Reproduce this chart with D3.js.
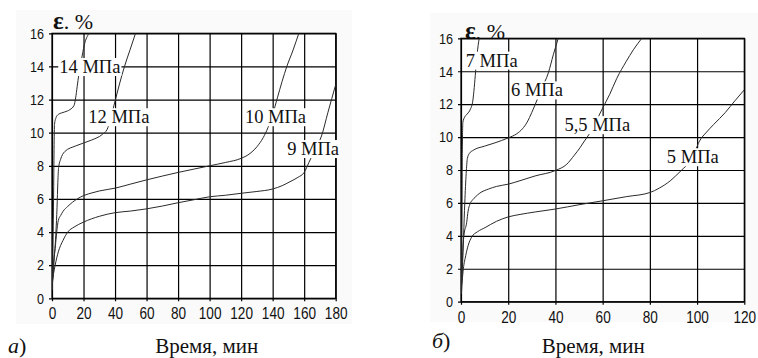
<!DOCTYPE html>
<html>
<head>
<meta charset="utf-8">
<script src="https://cdn.jsdelivr.net/npm/d3@7"></script>
<style>
  html, body { margin: 0; padding: 0; background: #fff; }
  svg { display: block; }
  .tick text { font-family: "Liberation Sans", Arial, sans-serif; fill: #111; }
  .serif { font-family: "Liberation Serif", "Times New Roman", serif; fill: #111; }
</style>
</head>
<body>
<svg id="chart" width="758" height="358"></svg>
<script>
// Creep strain ε (%) against time (min) at constant stress levels.
const strainTicks = [0, 2, 4, 6, 8, 10, 12, 14, 16];
const timeTicksA = [0, 20, 40, 60, 80, 100, 120, 140, 160, 180];
const timeTicksB = [0, 20, 40, 60, 80, 100, 120];

// Panel а): 14, 12, 10, 9 МПа  — [time, strain]
const curve14 = [[0.2,0.5],[0.6,3],[1,6],[1.3,9],[1.6,10.5],[2.5,10.9],[4,11.1],[8,11.25],[11.5,11.4],[14,11.65],[15,12.1],[16,12.8],[17,13.5],[18.5,14.3],[20.5,15.3],[23.5,16]];
const curve12 = [[0.4,1],[1.5,2.5],[2.5,4],[3.2,5.5],[3.7,7],[4.2,7.9],[5.5,8.4],[8,8.85],[15,9.2],[25,9.55],[32,9.9],[35,10.2],[37,10.8],[40,11.9],[43,13],[46,14],[49.5,15],[53,16]];
const curve10 = [[0.3,1],[1,2.2],[2,3],[3,4],[4,4.7],[5.5,5],[7,5.25],[10,5.55],[13,5.8],[16,6],[20,6.2],[26,6.38],[30,6.48],[40,6.65],[50,6.9],[60,7.15],[70,7.38],[80,7.6],[90,7.8],[100,8],[110,8.2],[120,8.45],[125,8.7],[130,9.15],[134,9.7],[137,10.3],[140,11.1],[143,12.1],[146,13.1],[149,14],[153,15],[156.6,16]];
const curve9 = [[0,0.9],[1,1.5],[2,2],[4,2.8],[7,3.5],[10,4],[14,4.3],[20,4.6],[30,4.95],[40,5.17],[50,5.27],[60,5.4],[70,5.57],[80,5.77],[90,5.95],[100,6.13],[110,6.22],[120,6.34],[130,6.45],[140,6.6],[146,6.8],[151,7.04],[156,7.3],[160,7.6],[163,8.2],[167,9],[171,9.8],[175,11.2],[180,12.9]];

// Panel б): 7, 6, 5,5, 5 МПа — [time, strain]
const curve7 = [[0.1,0.5],[0.3,3],[0.45,6],[0.55,9],[0.8,10.9],[1.5,11.2],[2.6,11.4],[4,11.7],[5,12.2],[5.6,13],[6.2,14],[6.8,15],[7.7,16]];
const curve6 = [[0.2,0.5],[0.6,2],[1.1,4],[1.6,6],[2.2,7.8],[2.7,8.7],[3.5,9],[5.2,9.2],[10,9.45],[14.4,9.65],[20,9.95],[23.6,10.2],[26,10.5],[28,10.9],[30,11.5],[31.5,12],[34,12.9],[37,13.9],[39.1,15],[41.2,16]];
const curve55 = [[0.2,0.5],[0.6,2.5],[1.2,4],[2.4,4.8],[3,5.5],[3.8,5.93],[5,6.2],[6,6.35],[8,6.6],[11.6,6.84],[15,7],[20,7.14],[25,7.35],[31.4,7.64],[40,7.97],[44.8,8.35],[48,8.9],[50.4,9.35],[52,9.7],[54.4,10.2],[57,10.9],[60,11.76],[63,12.6],[66,13.57],[70,14.6],[73,15.3],[76.6,16]];
const curve5 = [[0,0.8],[0.5,1.3],[1,2],[2,2.8],[3,3.4],[4.5,3.92],[7,4.25],[10.2,4.5],[15,4.88],[20,5.15],[25,5.3],[31.4,5.45],[40,5.63],[50.4,5.9],[60,6.13],[70,6.38],[80,6.63],[84,6.9],[88.6,7.34],[91,7.65],[93.5,8],[97,8.55],[99,9.1],[101,9.75],[104,10.3],[107,10.76],[112,11.5],[116,12.2],[120,12.87]];

const stressNamesA = ["14 МПа", "12 МПа", "10 МПа", "9 МПа"];
const stressNamesB = ["7 МПа", "6 МПа", "5,5 МПа", "5 МПа"];

// Where each stress label sits, in the panel's own (time, strain) units.
const labelSpotsA = [[4.6, 13.6], [23, 10.57], [122.4, 10.57], [149.2, 8.65]];
const labelSpotsB = [[2, 14.28], [21.2, 12.47], [43.8, 10.36], [87.2, 8.41]];

const svg = d3.select("#chart");

const panels = [
  { id: "a", xMax: 180, xTicks: timeTicksA, curves: [curve14, curve12, curve10, curve9],
    names: stressNamesA, spots: labelSpotsA,
    box: { x0: 52, x1: 335.7, y0: 298.3, y1: 33.3 },
    bg: { x: 16, y: 10, w: 336, h: 314 },
    yTitle: { text: "ε. %", x: 53, y: 29 },
    letter: { text: "а", x: 8, y: 353 }, xTitleX: 206.7, xTitleY: 352.5 },
  { id: "b", xMax: 120, xTicks: timeTicksB, curves: [curve7, curve6, curve55, curve5],
    names: stressNamesB, spots: labelSpotsB,
    box: { x0: 461, x1: 744.3, y0: 301.7, y1: 38.3 },
    bg: { x: 430, y: 13, w: 328, h: 309 },
    yTitle: { text: "ε, %", x: 465, y: 38.5 },
    letter: { text: "б", x: 432, y: 348 }, xTitleX: 593.3, xTitleY: 353.3 }
];

// squeeze tick digits horizontally around their anchor
function narrow(sel, k) {
  sel.each(function () {
    const t = d3.select(this);
    const tx = +t.attr("x") || 0;
    t.attr("x", 0).attr("transform", `translate(${tx},0) scale(${k},1)`);
  });
}

panels.forEach(p => {
  const b = p.box;
  const w = b.x1 - b.x0, h = b.y0 - b.y1;
  const x = d3.scaleLinear().domain([0, p.xMax]).range([0, w]);
  const y = d3.scaleLinear().domain([0, 16]).range([h, 0]);

  // faint paper tone behind the panel
  svg.append("rect").attr("x", p.bg.x).attr("y", p.bg.y)
    .attr("width", p.bg.w).attr("height", p.bg.h).attr("fill", "#fafafa");

  // axis title for strain
  const yt = svg.append("text").attr("class", "serif")
    .attr("x", p.yTitle.x).attr("y", p.yTitle.y)
    .attr("font-size", 22);
  yt.append("tspan").attr("font-weight", "bold").attr("font-size", 25).text(p.yTitle.text.slice(0, 1));
  yt.append("tspan").text(p.yTitle.text.slice(1));

  const g = svg.append("g").attr("transform", `translate(${b.x0},${b.y1})`);
  g.append("rect").attr("width", w).attr("height", h).attr("fill", "#fff");

  // horizontal grid + strain tick labels
  const yAxis = g.append("g").attr("transform", `translate(${w},0)`)
    .call(d3.axisLeft(y).tickValues(strainTicks).tickSize(w + 3).tickSizeOuter(0).tickPadding(5));
  yAxis.select(".domain").remove();
  yAxis.selectAll("line").attr("stroke", "#000").attr("stroke-width", 1.2);
  yAxis.selectAll("text").attr("font-size", 15).call(narrow, 0.84);

  // vertical grid + time tick labels
  const xAxis = g.append("g")
    .call(d3.axisBottom(x).tickValues(p.xTicks).tickSize(h + 3).tickSizeOuter(0).tickPadding(6));
  xAxis.select(".domain").remove();
  xAxis.selectAll("line").attr("stroke", "#000").attr("stroke-width", 1.2);
  xAxis.selectAll("text").attr("font-size", 17).call(narrow, 0.8);

  g.append("rect").attr("width", w).attr("height", h)
    .attr("fill", "none").attr("stroke", "#000").attr("stroke-width", 1.2);

  const clipId = "clip-" + p.id;
  g.append("clipPath").attr("id", clipId).append("rect").attr("width", w).attr("height", h);

  const line = d3.line().x(d => x(d[0])).y(d => y(d[1])).curve(d3.curveMonotoneX);
  g.append("g").attr("clip-path", `url(#${clipId})`)
    .selectAll("path").data(p.curves).join("path")
    .attr("d", line).attr("fill", "none")
    .attr("stroke", "#2a2a2a").attr("stroke-width", 1);

  // stress labels on white patches
  p.names.forEach((name, i) => {
    const [lt, le] = p.spots[i];
    const lg = g.append("g");
    const t = lg.append("text").attr("class", "serif")
      .attr("x", x(lt)).attr("y", y(le)).attr("font-size", 18.5).text(name);
    const bb = t.node().getBBox();
    lg.insert("rect", "text").attr("x", bb.x - 1).attr("y", bb.y + 1)
      .attr("width", bb.width + 2).attr("height", bb.height - 2).attr("fill", "#fff");
  });

  // time axis title and panel letter
  svg.append("text").attr("class", "serif").attr("x", p.xTitleX).attr("y", p.xTitleY)
    .attr("text-anchor", "middle").attr("font-size", 21).text("Время, мин");
  const lt = svg.append("text").attr("class", "serif").attr("x", p.letter.x).attr("y", p.letter.y)
    .attr("font-size", 22);
  lt.append("tspan").attr("font-style", "italic").text(p.letter.text);
  lt.append("tspan").text(")");
});
</script>
</body>
</html>
